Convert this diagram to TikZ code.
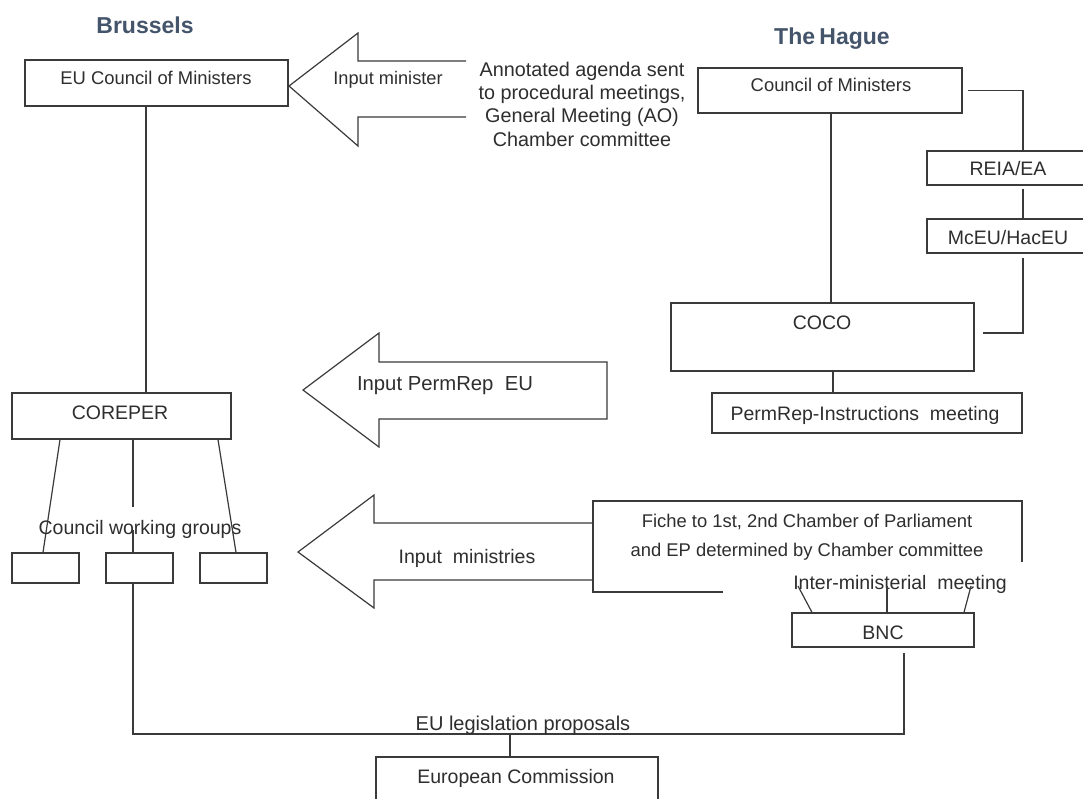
\documentclass[tikz,border=0pt]{standalone}
\usepackage{fontspec}
\setmainfont{Liberation Sans}
\definecolor{ln}{HTML}{3A3A3A}
\definecolor{tx}{HTML}{2E2E2E}
\definecolor{ttl}{HTML}{44546A}
\tikzset{
  box/.style={draw=ln, line width=1.2pt, rectangle, inner sep=0pt},
  txt/.style={inner sep=0pt, text=tx, text height=14pt, text depth=0pt, font=\fontsize{19.5}{22}\selectfont},
  mtxt/.style={inner sep=0pt, text=tx, align=center},
  ttlstyle/.style={inner sep=0pt, text=ttl, text height=16.5pt, text depth=0pt, font=\fontsize{23}{26}\selectfont\bfseries},
  con/.style={draw=ln, line width=1.2pt},
  bigarrow/.style={draw=ln, line width=1.2pt, line join=miter}
}
\begin{document}
\begin{tikzpicture}[x=1pt,y=-1pt]
\useasboundingbox (0,0) rectangle (1083,798);
\fill[white] (0,0) rectangle (1083,798);

% titles
\node[ttlstyle] (brussels) at (145,25) {Brussels};
\node[ttlstyle] (hague) at (832,36) {The\kern-2pt\ Hague};

% Brussels side boxes
\node[box, minimum width=263pt, minimum height=46pt] (eucm) at (156.5,83) {};
\node[txt, text height=13.2pt, font=\fontsize{18.4}{21}\selectfont] (eucmT) at (156,78) {EU Council of Ministers};
\node[box, minimum width=219pt, minimum height=46pt] (corep) at (121.5,416) {};
\node[txt] (corepT) at (120,412) {COREPER};
\node[box, minimum width=67pt, minimum height=30pt] (wg1) at (45.5,568) {};
\node[box, minimum width=67pt, minimum height=30pt] (wg2) at (139.5,568) {};
\node[box, minimum width=67pt, minimum height=30pt] (wg3) at (233.5,568) {};
\node[txt] (cwg) at (140,527) {Council working groups};

% The Hague side boxes
\node[box, minimum width=264pt, minimum height=45pt] (cm) at (830,90.5) {};
\node[txt, text height=13.2pt, font=\fontsize{18.4}{21}\selectfont] (cmT) at (831,85) {Council of Ministers};
\node[box, minimum width=159pt, minimum height=34pt] (reia) at (1006.5,168) {};
\node[txt] (reiaT) at (1008,168) {REIA/EA};
\node[box, minimum width=159pt, minimum height=34pt] (mceu) at (1006.5,236) {};
\node[txt] (mceuT) at (1008,237) {McEU/HacEU};
\node[box, minimum width=303pt, minimum height=68pt] (coco) at (822.5,337) {};
\node[txt] (cocoT) at (822,322) {COCO};
\node[box, minimum width=310pt, minimum height=40pt] (pri) at (867,413) {};
\node[txt] (priT) at (865,413) {PermRep-Instructions\ \ meeting};
\node[box, minimum width=182pt, minimum height=34pt] (bnc) at (883,630) {};
\node[txt] (bncT) at (883,632) {BNC};
\node[box, minimum width=282pt, minimum height=46pt] (ec) at (517,780) {};
\node[txt] (ecT) at (516,776) {European Commission};

% Fiche (open box)
\draw[con] (723,592) -- (593,592) -- (593,501) -- (1022,501) -- (1022,562);
\node[mtxt, font=\fontsize{18.4}{29}\selectfont] (fiche) at (807,537) {Fiche to 1st, 2nd Chamber of Parliament\\and EP determined by Chamber committee};
\node[txt] (inter) at (900,582) {Inter-ministerial\ \ meeting};

% annotated agenda text
\node[mtxt, font=\fontsize{19.8}{23.3}\selectfont] (agenda) at (582,104) {Annotated agenda sent\\to procedural meetings,\\General Meeting (AO)\\Chamber committee};

% big arrows
\draw[bigarrow] (466,61) -- (358,61) -- (358,33) -- (289,86) -- (358,146) -- (358,117) -- (466,117);
\node[txt, text height=13.1pt, font=\fontsize{18.2}{21}\selectfont] (inmin) at (388,78) {Input minister};
\draw[bigarrow] (607,362) -- (379,362) -- (379,333) -- (303,390) -- (379,447) -- (379,419) -- (607,419) -- cycle;
\node[txt, text height=14.5pt, font=\fontsize{20.3}{23}\selectfont] (inperm) at (445,383) {Input PermRep\ \ EU};
\draw[bigarrow] (593,523) -- (374,523) -- (374,495) -- (298,552) -- (374,608) -- (374,580) -- (593,580);
\node[txt] (inminis) at (467,556) {Input\ \ ministries};

% Brussels connectors
\draw[con] ([xshift=-10.5pt]eucm.south) -- ([xshift=24.5pt]corep.north);
\draw[con] ([xshift=-61.5pt]corep.south) -- ([xshift=-2.5pt]wg1.north);
\coordinate (midA) at (133,507);
\coordinate (midB) at (133,530);
\draw[con] ([xshift=11.5pt]corep.south) -- (midA);
\draw[con] (midB) -- ([xshift=-6.5pt]wg2.north);
\draw[con] ([xshift=96.5pt]corep.south) -- ([xshift=2.5pt]wg3.north);

% The Hague connectors
\draw[con] ([xshift=1pt]cm.south) -- ([xshift=8.5pt]coco.north);
\draw[con] ([xshift=10.5pt]coco.south) -- ([xshift=-34pt]pri.north);
\draw[con] ([xshift=5pt]cm.east) -| ([xshift=16.5pt]reia.north);
\draw[con] ([xshift=16.5pt,yshift=-3pt]reia.south) -- ([xshift=16.5pt]mceu.north);
\draw[con] ([xshift=16.5pt,yshift=-4pt]mceu.south) |- ([xshift=8pt,yshift=4pt]coco.east);

% BNC to inter-ministerial meeting
\coordinate (imL) at (798,586);
\coordinate (imM) at (887,586);
\coordinate (imR) at (971,586);
\draw[con] ([xshift=-71pt]bnc.north) -- (imL);
\draw[con] ([xshift=4pt]bnc.north) -- (imM);
\draw[con] ([xshift=81pt]bnc.north) -- (imR);

% EU legislation proposals
\coordinate (legc) at (510,734);
\draw[con] ([xshift=-6.5pt]wg2.south) |- (legc) -| ([xshift=21pt,yshift=-5pt]bnc.south);
\draw[con] (legc) -- (legc |- ec.north);
\node[txt, font=\fontsize{20}{23}\selectfont] (leg) at (523,723) {EU legislation proposals};
\end{tikzpicture}
\end{document}
